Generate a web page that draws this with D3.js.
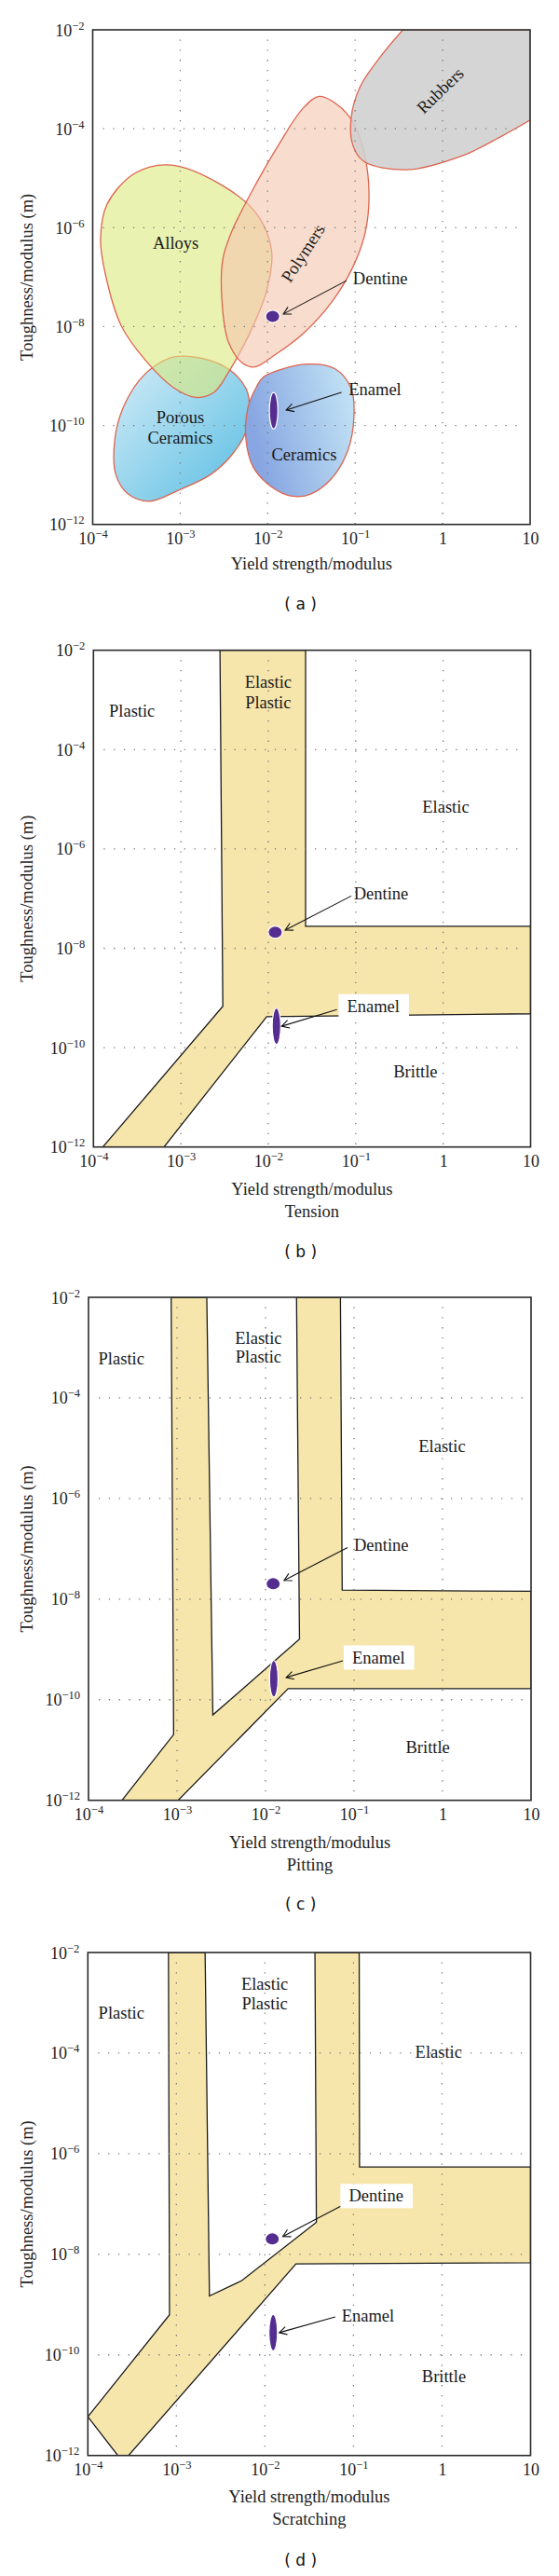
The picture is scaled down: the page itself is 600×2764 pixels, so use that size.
<!DOCTYPE html>
<html><head><meta charset="utf-8">
<script src="https://cdn.jsdelivr.net/npm/d3@7"></script>
<style>
html,body{margin:0;padding:0;background:#fff;}
svg{display:block;}
</style></head>
<body><svg id="chart" width="600" height="2764"></svg>
<script>
// ---------- axis / tick data ----------
const xTickValues = [1e-4, 1e-3, 1e-2, 1e-1, 1, 10];
const xTickBase = ["10", "10", "10", "10", "1", "10"];
const xTickExp = ["−4", "−3", "−2", "−1", "", ""];
const yTickValues = [1e-2, 1e-4, 1e-6, 1e-8, 1e-10, 1e-12];
const yTickExp = ["−2", "−4", "−6", "−8", "−10", "−12"];
const gridXValues = [1e-3, 1e-2, 1e-1, 1];
const gridYValues = [1e-4, 1e-6, 1e-8, 1e-10];

const xTitle = "Yield strength/modulus";
const yTitle = "Toughness/modulus (m)";
const subTitles = [null, "Tension", "Pitting", "Scratching"];
const panelTags = ["( a )", "( b )", "( c )", "( d )"];

// ---------- panel (a): material classes (yield strength/modulus, toughness/modulus) ----------
const alloys = [[7.88e-4,1.85e-5],[2.93e-3,7.41e-6],[7.49e-3,1.89e-6],[1.11e-2,3.33e-7],[9.75e-3,5.38e-8],[6.21e-3,7.23e-9],[3.54e-3,1.17e-9],[2.43e-3,4.68e-10],[1.52e-3,3.69e-10],[8.65e-4,5.62e-10],[4.08e-4,2.01e-9],[2.12e-4,1.04e-8],[1.40e-4,1.12e-7],[1.23e-4,5.77e-7],[1.46e-4,2.98e-6],[3.08e-4,1.28e-5]];
const polymers = [[3.87e-2,4.50e-4],[6.18e-2,3.12e-4],[9.44e-2,1.37e-4],[0.127,3.19e-5],[0.144,5.15e-6],[0.131,8.30e-7],[9.44e-2,1.61e-7],[5.37e-2,3.11e-8],[2.54e-2,7.23e-9],[1.20e-2,2.65e-9],[7.15e-3,1.53e-9],[5.14e-3,1.84e-9],[3.54e-3,5.01e-9],[2.99e-3,3.73e-8],[3.07e-3,2.31e-7],[3.88e-3,8.30e-7],[6.50e-3,5.15e-6],[1.32e-2,4.59e-5],[2.54e-2,2.60e-4]];
const rubbers = [[10,1.50e-4],[4.42,6.62e-5],[1.73,2.91e-5],[0.385,1.48e-5],[0.125,2.21e-5],[9.44e-2,4.59e-5],[9.0e-2,1.65e-4],[0.114,7.10e-4],[0.2,3.05e-3],[0.351,1e-2]];
const rubbersCorner = [10, 1e-2];
const porousCeramics = [[8.26e-4,2.42e-9],[1.67e-3,2.33e-9],[3.54e-3,1.40e-9],[5.65e-3,5.62e-10],[6.21e-3,2.25e-10],[5.65e-3,7.55e-11],[3.88e-3,2.53e-11],[2.21e-3,1.01e-11],[9.51e-4,4.89e-12],[4.49e-4,2.94e-12],[2.56e-4,4.07e-12],[1.84e-4,1.01e-11],[1.79e-4,5.24e-11],[2.22e-4,2.25e-10],[3.39e-4,8.09e-10],[4.93e-4,1.53e-9]];
const ceramics = [[9.04e-3,9.70e-10],[2.79e-2,1.74e-9],[5.90e-2,1.40e-9],[9.00e-2,5.62e-10],[9.70e-2,1.57e-10],[8.20e-2,3.03e-11],[5.37e-2,8.45e-12],[3.06e-2,4.07e-12],[1.91e-2,3.72e-12],[1.09e-2,5.87e-12],[6.82e-3,1.46e-11],[5.65e-3,5.24e-11],[5.93e-3,2.25e-10],[7.49e-3,6.15e-10]];
const materialNames = [["Alloys"], ["Polymers"], ["Rubbers"], ["Porous", "Ceramics"], ["Ceramics"]];
const materialLabelPos = [[8.9e-4,4.8e-7],[2.54e-2,3.04e-7],[0.94,5.9e-4],[1.0e-3,9.06e-11],[2.61e-2,2.53e-11]];

// ---------- panels (b)-(d): elastic-plastic transition bands ----------
const tensionBand = [[2.80e-3,1e-2],[2.67e-2,1e-2],[2.67e-2,2.77e-8],[10,2.77e-8],[10,4.81e-10],[9.59e-3,4.21e-10],[6.42e-4,1e-12],[1.28e-4,1e-12],[3.02e-3,6.81e-10]];
const pittingBand = [[8.59e-4,1e-2],[2.17e-3,1e-2],[2.54e-3,4.98e-11],[2.42e-2,1.60e-9],[2.24e-2,1e-2],[7.02e-2,1e-2],[7.35e-2,1.51e-8],[10,1.43e-8],[10,1.66e-10],[1.80e-2,1.66e-10],[1.03e-3,1e-12],[2.39e-4,1e-12],[9.16e-4,2.03e-11]];
const scratchingBand = [[8.13e-4,1e-2],[2.11e-3,1e-2],[2.36e-3,1.48e-9],[5.48e-3,3.00e-9],[3.81e-2,4.33e-8],[3.67e-2,1e-2],[0.116,1e-2],[0.117,5.45e-7],[10,5.45e-7],[10,6.81e-9],[2.24e-2,6.43e-9],[2.88e-4,1e-12],[2.18e-4,1e-12],[1e-4,5.89e-12],[8.36e-4,6.28e-10]];
const regionNames = [["Plastic"], ["Elastic", "Plastic"], ["Elastic"], ["Brittle"]];
const regionPosB = [[2.76e-4,5.86e-4],[9.96e-3,1.42e-3],[1.07,6.92e-6],[0.482,3.23e-11]];
const regionPosC = [[2.35e-4,5.96e-4],[8.32e-3,1.01e-3],[0.986,1.09e-5],[0.681,1.12e-11]];
const regionPosD = [[2.39e-4,6.31e-4],[9.93e-3,1.49e-3],[0.915,1.03e-4],[1.05,3.74e-11]];

// ---------- tooth tissues (panels a-d) ----------
const dentinePos = [[1.14e-2,1.61e-8],[1.20e-2,2.11e-8],[1.22e-2,2.02e-8],[1.21e-2,2.02e-8]];
const enamelPos = [[1.17e-2,1.99e-10],[1.24e-2,2.70e-10],[1.24e-2,2.61e-10],[1.24e-2,2.77e-10]];
const dentineLabelPos = [[9.44e-2,9.3e-8],[9.49e-2,1.25e-7],[9.98e-2,1.19e-7],[8.85e-2,1.44e-7]];
const enamelLabelPos = [[8.43e-2,5.32e-10],[7.94e-2,6.81e-10],[9.53e-2,6.90e-10],[7.35e-2,5.93e-10]];
const dentineArrows = [[[7.97e-2,8.49e-8],[1.51e-2,1.80e-8]],[[8.89e-2,1.13e-7],[1.56e-2,2.33e-8]],[[8.45e-2,1.06e-7],[1.62e-2,2.35e-8]],[[7.85e-2,9.82e-8],[1.59e-2,2.26e-8]]];
const enamelArrows = [[[6.98e-2,4.68e-10],[1.63e-2,2.06e-10]],[[6.10e-2,5.83e-10],[1.42e-2,2.70e-10]],[[7.48e-2,5.93e-10],[1.71e-2,2.77e-10]],[[6.22e-2,5.71e-10],[1.45e-2,2.77e-10]]];
const dentineBoxed = [false, false, false, true];
const enamelBoxed = [false, true, true, false];

// ---------- layout & style ----------
const SERIF = '"Liberation Serif","Times New Roman",serif';
const layouts = [
  {key:"a", left:99.5, right:569, top:32, bottom:562.7, title:48, tag:91},
  {key:"b", left:100.3, right:569.5, top:697.7, bottom:1230.7, title:51, tag:118},
  {key:"c", left:95, right:570, top:1392, bottom:1931.7, title:51, tag:117},
  {key:"d", left:94.3, right:569.5, top:2095, bottom:2634.7, title:50, tag:118}
];
const RED = "#de6450";
const BAND = "#f7e6ab";
const PURPLE = "#552d91";

const svg = d3.select("#chart");
const defs = svg.append("defs");
const gP = defs.append("linearGradient").attr("id","porousGrad").attr("x1",0).attr("y1",0).attr("x2",1).attr("y2",1);
gP.append("stop").attr("offset",0).attr("stop-color","#d6edf8");
gP.append("stop").attr("offset",1).attr("stop-color","#58bde2");
const gC = defs.append("linearGradient").attr("id","ceramGrad").attr("x1",0).attr("y1",0.3).attr("x2",1).attr("y2",0);
gC.append("stop").attr("offset",0).attr("stop-color","#87a6e2");
gC.append("stop").attr("offset",1).attr("stop-color","#c6e7f6");

function makePanel(L, i) {
  const x = d3.scaleLog().domain([1e-4, 10]).range([L.left, L.right]);
  const y = d3.scaleLog().domain([1e-12, 1e-2]).range([L.bottom, L.top]);
  const g = svg.append("g").attr("class", "panel-" + L.key);
  defs.append("clipPath").attr("id", "clip" + L.key).append("rect")
    .attr("x", L.left).attr("y", L.top).attr("width", L.right - L.left).attr("height", L.bottom - L.top);
  const plot = g.append("g").attr("clip-path", `url(#clip${L.key})`);
  const over = g.append("g");
  return {x, y, g, plot, over};
}

function drawGrid(P, L, g) {
  const grid = g.append("g").attr("stroke", "#7a7a7a").attr("stroke-width", 1.3).attr("stroke-dasharray", "1.3,9.5");
  grid.selectAll(".gx").data(gridXValues).join("line")
    .attr("x1", d => P.x(d)).attr("x2", d => P.x(d))
    .attr("y1", L.top + 10.5).attr("y2", L.bottom);
  grid.selectAll(".gy").data(gridYValues).join("line")
    .attr("y1", d => P.y(d)).attr("y2", d => P.y(d))
    .attr("x1", L.left + 11).attr("x2", L.right - 8);
}

function drawAxes(P, L, i) {
  const g = P.g;
  g.append("rect").attr("x", L.left).attr("y", L.top).attr("width", L.right - L.left).attr("height", L.bottom - L.top)
    .attr("fill", "none").attr("stroke", "#2b2b2b").attr("stroke-width", 1.6);
  const ax = g.append("g").attr("transform", `translate(0,${L.bottom})`)
    .call(d3.axisBottom(P.x).tickValues(xTickValues).tickSize(0).tickFormat(""));
  ax.select(".domain").remove();
  ax.attr("font-family", SERIF).attr("font-size", 18);
  ax.selectAll(".tick text").each(function(d, k) {
    const t = d3.select(this).attr("y", 21.6).attr("dy", null).attr("fill", "#222").text(null);
    t.append("tspan").text(xTickBase[k]);
    if (xTickExp[k]) t.append("tspan").attr("font-size", 12.5).attr("dy", -7).text(xTickExp[k]);
  });
  const ay = g.append("g").attr("transform", `translate(${L.left},0)`)
    .call(d3.axisLeft(P.y).tickValues(yTickValues).tickSize(0).tickFormat(""));
  ay.select(".domain").remove();
  ay.attr("font-family", SERIF).attr("font-size", 18);
  ay.selectAll(".tick text").each(function(d, k) {
    const t = d3.select(this).attr("x", -9).attr("y", 6).attr("dy", null).attr("fill", "#222").text(null);
    t.append("tspan").text("10");
    t.append("tspan").attr("font-size", 12.5).attr("dy", -7).text(yTickExp[k]);
  });
  const cx = (L.left + L.right) / 2;
  g.append("text").attr("x", cx).attr("y", L.bottom + L.title).attr("text-anchor", "middle")
    .attr("font-family", SERIF).attr("font-size", 18.5).attr("fill", "#222").text(xTitle);
  if (subTitles[i]) g.append("text").attr("x", cx).attr("y", L.bottom + L.title + 24).attr("text-anchor", "middle")
    .attr("font-family", SERIF).attr("font-size", 18.5).attr("fill", "#222").text(subTitles[i]);
  g.append("text").attr("transform", `translate(34.5,${(L.top + L.bottom) / 2}) rotate(-90)`).attr("text-anchor", "middle")
    .attr("font-family", SERIF).attr("font-size", 18.5).attr("fill", "#222").text(yTitle);
  g.append("text").attr("x", 322.6).attr("y", L.bottom + L.tag).attr("text-anchor", "middle")
    .attr("font-family", '"DejaVu Sans",sans-serif').attr("font-size", 17).attr("fill", "#111").text(panelTags[i]);
}

function label(g, P, lines, pos, opts) {
  opts = opts || {};
  const gap = opts.gap || 21;
  const px = P.x(pos[0]), py = P.y(pos[1]);
  const t = g.append("text").attr("font-family", SERIF).attr("font-size", 18.5).attr("fill", "#1a1a1a")
    .attr("text-anchor", opts.anchor || "middle")
    .attr("transform", `translate(${px},${py}) rotate(${opts.rotate || 0})`);
  const n = lines.length;
  lines.forEach((s, k) => {
    t.append("tspan").attr("x", 0).attr("y", (k - (n - 1) / 2) * gap).attr("dy", "0.33em").text(s);
  });
  return t;
}

function boxedLabel(g, P, text, pos, boxed) {
  const grp = g.append("g");
  const t = label(grp, P, [text], pos, {anchor: "start"});
  if (boxed) {
    const bb = t.node().getBBox();
    const px = P.x(pos[0]), py = P.y(pos[1]);
    grp.insert("rect", "text").attr("x", px + bb.x - 9).attr("y", py - 13)
      .attr("width", bb.width + 19).attr("height", 26).attr("fill", "#fff");
  }
}

function arrow(g, P, seg) {
  const x1 = P.x(seg[0][0]), y1 = P.y(seg[0][1]), x2 = P.x(seg[1][0]), y2 = P.y(seg[1][1]);
  g.append("line").attr("x1", x1).attr("y1", y1).attr("x2", x2).attr("y2", y2)
    .attr("stroke", "#111").attr("stroke-width", 1.1);
  const a = Math.atan2(y2 - y1, x2 - x1), len = 9, sp = 0.5;
  const p1 = [x2 - len * Math.cos(a - sp), y2 - len * Math.sin(a - sp)];
  const p2 = [x2 - len * Math.cos(a + sp), y2 - len * Math.sin(a + sp)];
  g.append("path").attr("d", `M${p1[0]},${p1[1]}L${x2},${y2}L${p2[0]},${p2[1]}`)
    .attr("fill", "none").attr("stroke", "#111").attr("stroke-width", 1.1);
}

function tissues(P, i, g) {
  const d = dentinePos[i], e = enamelPos[i];
  g.append("ellipse").attr("cx", P.x(d[0])).attr("cy", P.y(d[1])).attr("rx", 7.6).attr("ry", 6.6)
    .attr("fill", PURPLE).attr("stroke", "#fff").attr("stroke-width", 1.2);
  g.append("ellipse").attr("cx", P.x(e[0])).attr("cy", P.y(e[1])).attr("rx", 4.6).attr("ry", 19.5)
    .attr("fill", PURPLE).attr("stroke", "#fff").attr("stroke-width", 1.2);
  arrow(g, P, dentineArrows[i]);
  arrow(g, P, enamelArrows[i]);
  boxedLabel(g, P, "Dentine", dentineLabelPos[i], dentineBoxed[i]);
  boxedLabel(g, P, "Enamel", enamelLabelPos[i], enamelBoxed[i]);
}

// ---------- panel (a) ----------
(function() {
  const L = layouts[0];
  const P = makePanel(L, 0);
  const blob = d3.line().x(d => P.x(d[0])).y(d => P.y(d[1])).curve(d3.curveCatmullRomClosed.alpha(0.5));
  const open = d3.line().x(d => P.x(d[0])).y(d => P.y(d[1])).curve(d3.curveCatmullRom.alpha(0.5));
  const st = sel => sel.attr("stroke", RED).attr("stroke-width", 1.3);
  st(P.plot.append("path").attr("d", blob(porousCeramics)).attr("fill", "url(#porousGrad)"));
  st(P.plot.append("path").attr("d", blob(ceramics)).attr("fill", "url(#ceramGrad)"));
  st(P.plot.append("path").attr("d", blob(alloys)).attr("fill", "#dbea7c").attr("fill-opacity", 0.6));
  st(P.plot.append("path").attr("d", blob(polymers)).attr("fill", "#f3c7ae").attr("fill-opacity", 0.62));
  st(P.plot.append("path").attr("d", open(rubbers) + `L${P.x(rubbersCorner[0])},${P.y(rubbersCorner[1])}Z`)
    .attr("fill", "#cfcfcf").attr("fill-opacity", 0.88));
  drawGrid(P, L, P.plot);
  const rot = [0, -57, -44, 0, 0];
  materialNames.forEach((m, k) => label(P.over, P, m, materialLabelPos[k], {rotate: rot[k], gap: 22.7}));
  tissues(P, 0, P.over);
  drawAxes(P, L, 0);
})();

// ---------- panels (b)-(d) ----------
[[tensionBand, regionPosB, 21.4], [pittingBand, regionPosC, 20], [scratchingBand, regionPosD, 20.5]].forEach((cfg, j) => {
  const i = j + 1, L = layouts[i];
  const P = makePanel(L, i);
  const poly = d3.line().x(d => P.x(d[0])).y(d => P.y(d[1])).curve(d3.curveLinearClosed);
  P.plot.append("path").attr("d", poly(cfg[0])).attr("fill", BAND).attr("stroke", "#1a1a1a").attr("stroke-width", 1.3);
  drawGrid(P, L, P.plot);
  regionNames.forEach((r, k) => label(P.over, P, r, cfg[1][k], {gap: cfg[2]}));
  tissues(P, i, P.over);
  drawAxes(P, L, i);
});
</script></body></html>
